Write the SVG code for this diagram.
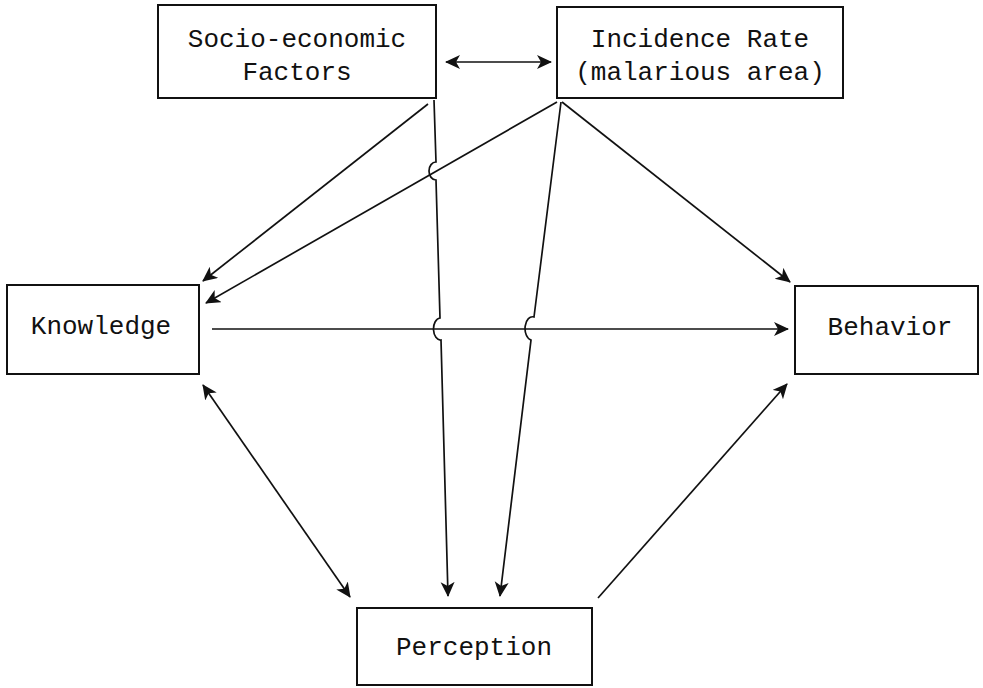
<svg xmlns="http://www.w3.org/2000/svg" width="983" height="688" viewBox="0 0 983 688">
<style>
.box{fill:#fff;stroke:#111;stroke-width:2}
.lbl{font-family:"Liberation Mono","Courier New",monospace;font-size:26px;fill:#111;text-anchor:middle}
.c{fill:none;stroke:#111;stroke-width:1.7}
</style>
<defs>
<marker id="ah" markerUnits="userSpaceOnUse" markerWidth="18" markerHeight="16" refX="14" refY="7" orient="auto-start-reverse">
<path d="M0,0 L15,7 L0,14 L4,7 z" fill="#111"/>
</marker>
</defs>
<rect width="983" height="688" fill="#fff"/>
<g id="connectors">
<line class="c" x1="446" y1="62" x2="551" y2="62" marker-start="url(#ah)" marker-end="url(#ah)"/>
<line class="c" x1="428" y1="104" x2="203" y2="281" marker-end="url(#ah)"/>
<line class="c" x1="557" y1="102" x2="206" y2="303" marker-end="url(#ah)"/>
<path class="c" d="M434,100 L436,162 A7,9 0 0 0 436,180 L440,318 A7,11 0 0 0 441,340 L448,596" marker-end="url(#ah)"/>
<path class="c" d="M561,102 L534,317 A7,11 0 0 0 531,340 L500,596" marker-end="url(#ah)"/>
<line class="c" x1="562" y1="102" x2="790" y2="282" marker-end="url(#ah)"/>
<line class="c" x1="212" y1="329" x2="788" y2="329" marker-end="url(#ah)"/>
<line class="c" x1="203" y1="385" x2="350" y2="597" marker-start="url(#ah)" marker-end="url(#ah)"/>
<line class="c" x1="598" y1="598" x2="787" y2="384" marker-end="url(#ah)"/>
</g>
<g id="socio">
<rect class="box" x="158" y="5" width="278" height="93"/>
<text class="lbl" x="297" y="47">Socio-economic</text>
<text class="lbl" x="297" y="80">Factors</text>
</g>
<g id="incidence">
<rect class="box" x="557" y="7" width="286" height="91"/>
<text class="lbl" x="700" y="47">Incidence Rate</text>
<text class="lbl" x="700" y="80">(malarious area)</text>
</g>
<g id="knowledge">
<rect class="box" x="7" y="285" width="192" height="89"/>
<text class="lbl" x="101" y="334">Knowledge</text>
</g>
<g id="behavior">
<rect class="box" x="795" y="286" width="183" height="88"/>
<text class="lbl" x="890" y="335">Behavior</text>
</g>
<g id="perception">
<rect class="box" x="357" y="608" width="235" height="77"/>
<text class="lbl" x="474" y="655">Perception</text>
</g>
</svg>
